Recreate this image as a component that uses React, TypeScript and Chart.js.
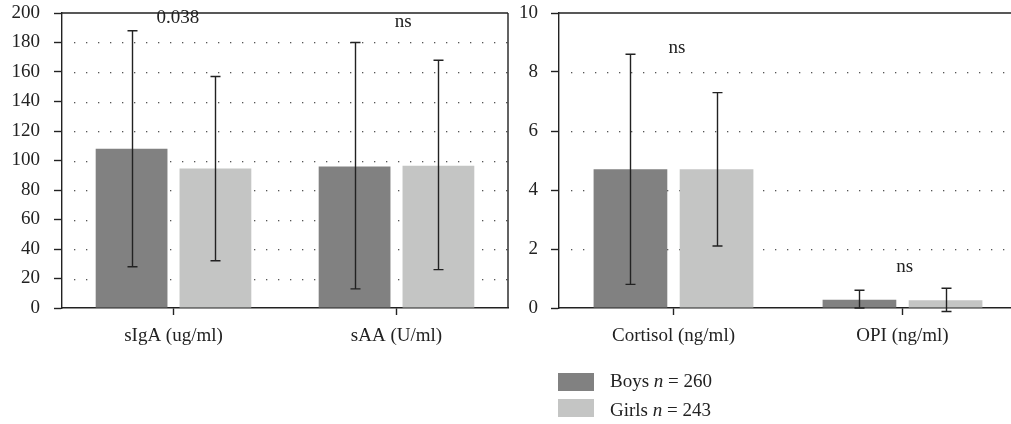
import React, { useEffect, useRef } from 'react';
import { Chart, registerables } from 'chart.js';

Chart.register(...registerables);

// ---------- data ----------
const leftCategories = ['sIgA (ug/ml)', 'sAA (U/ml)'];
const leftBoys = [108, 96];
const leftGirls = [94.5, 96.5];
const leftBoysLow = [28, 13];
const leftBoysHigh = [188, 180];
const leftGirlsLow = [32, 26];
const leftGirlsHigh = [157, 168];
const leftNotes = ['0.038', 'ns'];
const leftNoteY = [196.5, 194];
const leftTicks = { min: 0, max: 200, step: 20 };

const rightCategories = ['Cortisol (ng/ml)', 'OPI (ng/ml)'];
const rightBoys = [4.7, 0.28];
const rightGirls = [4.7, 0.26];
const rightBoysLow = [0.8, 0.0];
const rightBoysHigh = [8.6, 0.6];
const rightGirlsLow = [2.1, -0.12];
const rightGirlsHigh = [7.3, 0.67];
const rightNotes = ['ns', 'ns'];
const rightNoteY = [8.8, 1.4];
const rightTicks = { min: 0, max: 10, step: 2 };

const seriesNames = ['Boys', 'Girls'];
const seriesN = [260, 243];

// ---------- style ----------
const FONT = "'Liberation Serif', 'Times New Roman', serif";
const BOYS_COLOR = '#818181';
const GIRLS_COLOR = '#c4c5c4';
const INK = '#222222';

const dottedGridPlugin = {
  id: 'dottedGrid',
  beforeDatasetsDraw(chart: any) {
    const ys = chart.scales.y;
    const { left, right } = chart.chartArea;
    const ctx = chart.ctx;
    ctx.save();
    ctx.fillStyle = '#555555';
    ys.ticks.forEach((t: any) => {
      if (t.value <= ys.min || t.value >= ys.max) return;
      const py = Math.round(ys.getPixelForValue(t.value));
      for (let x = left + 12; x < right - 1; x += 12) {
        ctx.fillRect(Math.round(x), py, 1.3, 1.3);
      }
    });
    ctx.restore();
  },
};

const errorBarPlugin = {
  id: 'errorBars',
  afterDatasetsDraw(chart: any, _args: any, opts: any) {
    const ys = chart.scales.y;
    const ctx = chart.ctx;
    ctx.save();
    ctx.strokeStyle = INK;
    ctx.lineWidth = 1.4;
    chart.data.datasets.forEach((_ds: any, di: number) => {
      const meta = chart.getDatasetMeta(di);
      const lows = opts.low[di];
      const highs = opts.high[di];
      meta.data.forEach((el: any, i: number) => {
        const x = Math.round(el.x) + 0.5;
        const yt = ys.getPixelForValue(highs[i]);
        const yb = ys.getPixelForValue(lows[i]);
        ctx.beginPath();
        ctx.moveTo(x, yt);
        ctx.lineTo(x, yb);
        ctx.moveTo(x - 5, yt);
        ctx.lineTo(x + 5, yt);
        ctx.moveTo(x - 5, yb);
        ctx.lineTo(x + 5, yb);
        ctx.stroke();
      });
    });
    ctx.restore();
  },
};

const notesPlugin = {
  id: 'notes',
  afterDatasetsDraw(chart: any, _args: any, opts: any) {
    const xs = chart.scales.x;
    const ys = chart.scales.y;
    const ctx = chart.ctx;
    ctx.save();
    ctx.fillStyle = INK;
    ctx.font = `19px ${FONT}`;
    ctx.textAlign = 'center';
    ctx.textBaseline = 'middle';
    opts.texts.forEach((t: string, i: number) => {
      ctx.fillText(t, xs.getPixelForValue(i + opts.dx[i]), ys.getPixelForValue(opts.ys[i]));
    });
    ctx.restore();
  },
};

const framePlugin = {
  id: 'frame',
  afterDraw(chart: any) {
    const { left, right, top, bottom } = chart.chartArea;
    const ctx = chart.ctx;
    ctx.save();
    ctx.strokeStyle = INK;
    ctx.lineWidth = 1.4;
    ctx.beginPath();
    ctx.moveTo(left, top);
    ctx.lineTo(right, top);
    ctx.moveTo(right, top);
    ctx.lineTo(right, bottom);
    ctx.stroke();
    ctx.restore();
  },
};

function makeConfig(p: {
  categories: string[];
  boys: number[];
  girls: number[];
  boysLow: number[];
  boysHigh: number[];
  girlsLow: number[];
  girlsHigh: number[];
  notes: string[];
  noteY: number[];
  noteDx: number[];
  ticks: { min: number; max: number; step: number };
  yWidth: number;
  labelPad: number;
  padRight: number;
}): any {
  return {
    type: 'bar',
    data: {
      labels: p.categories,
      datasets: [
        { label: seriesNames[0], data: p.boys, backgroundColor: BOYS_COLOR, borderWidth: 0 },
        { label: seriesNames[1], data: p.girls, backgroundColor: GIRLS_COLOR, borderWidth: 0 },
      ],
    },
    options: {
      responsive: false,
      animation: false,
      devicePixelRatio: 1,
      layout: { padding: { top: 13, right: p.padRight, left: 0, bottom: 0 } },
      datasets: { bar: { categoryPercentage: 0.752, barPercentage: 0.856 } },
      plugins: {
        legend: { display: false },
        tooltip: { enabled: false },
        errorBars: { low: [p.boysLow, p.girlsLow], high: [p.boysHigh, p.girlsHigh] },
        notes: { texts: p.notes, ys: p.noteY, dx: p.noteDx },
      },
      scales: {
        x: {
          afterFit: (s: any) => { s.height = 116; s.paddingLeft = 0; s.paddingRight = 0; },
          grid: { drawOnChartArea: false, offset: false, tickLength: 7, tickColor: INK, tickWidth: 1.4 },
          border: { color: INK, width: 1.4 },
          ticks: { color: INK, font: { family: FONT, size: 19 }, padding: 10, maxRotation: 0, autoSkip: false },
        },
        y: {
          min: p.ticks.min,
          max: p.ticks.max,
          afterFit: (s: any) => { s.width = p.yWidth; s.paddingTop = 0; s.paddingBottom = 0; },
          grid: { drawOnChartArea: false, tickLength: 8, tickColor: INK, tickWidth: 1.4 },
          border: { color: INK, width: 1.4 },
          ticks: { stepSize: p.ticks.step, color: INK, font: { family: FONT, size: 19 }, padding: p.labelPad },
        },
      },
    },
    plugins: [dottedGridPlugin, errorBarPlugin, notesPlugin, framePlugin],
  };
}

export default function App() {
  const leftRef = useRef<HTMLCanvasElement | null>(null);
  const rightRef = useRef<HTMLCanvasElement | null>(null);

  useEffect(() => {
    const left = new Chart(leftRef.current as HTMLCanvasElement, makeConfig({
      categories: leftCategories,
      boys: leftBoys,
      girls: leftGirls,
      boysLow: leftBoysLow,
      boysHigh: leftBoysHigh,
      girlsLow: leftGirlsLow,
      girlsHigh: leftGirlsHigh,
      notes: leftNotes,
      noteY: leftNoteY,
      noteDx: [0.02, 0.03],
      ticks: leftTicks,
      yWidth: 62,
      labelPad: 14,
      padRight: 2,
    }));
    const right = new Chart(rightRef.current as HTMLCanvasElement, makeConfig({
      categories: rightCategories,
      boys: rightBoys,
      girls: rightGirls,
      boysLow: rightBoysLow,
      boysHigh: rightBoysHigh,
      girlsLow: rightGirlsLow,
      girlsHigh: rightGirlsHigh,
      notes: rightNotes,
      noteY: rightNoteY,
      noteDx: [0.015, 0.01],
      ticks: rightTicks,
      yWidth: 49,
      labelPad: 13,
      padRight: 0,
    }));
    return () => {
      left.destroy();
      right.destroy();
    };
  }, []);

  const legendText: React.CSSProperties = {
    position: 'absolute',
    left: 610,
    fontFamily: FONT,
    fontSize: 19,
    color: INK,
    lineHeight: '22px',
    whiteSpace: 'nowrap',
  };

  return (
    <div style={{ position: 'fixed', left: 0, top: 0, width: 1011, height: 424, overflow: 'hidden', background: '#fff' }}>
      <canvas ref={leftRef} width={510} height={424} style={{ position: 'absolute', left: 0, top: 0 }} />
      <canvas ref={rightRef} width={507} height={424} style={{ position: 'absolute', left: 510, top: 0 }} />
      <div style={{ position: 'absolute', left: 558, top: 373, width: 36, height: 18, background: BOYS_COLOR }} />
      <div style={{ position: 'absolute', left: 558, top: 399, width: 36, height: 18, background: GIRLS_COLOR }} />
      <div style={{ ...legendText, top: 370 }}>
        {seriesNames[0]} <i>n</i> = {seriesN[0]}
      </div>
      <div style={{ ...legendText, top: 399 }}>
        {seriesNames[1]} <i>n</i> = {seriesN[1]}
      </div>
    </div>
  );
}
